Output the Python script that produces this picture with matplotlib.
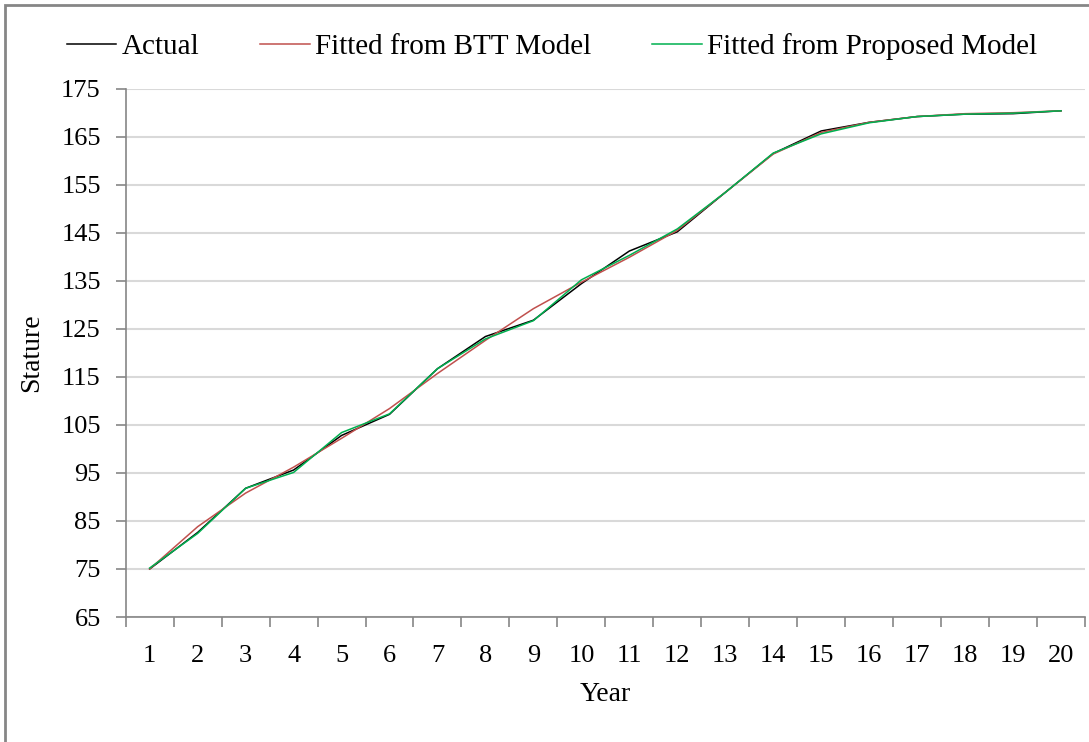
# Estatura por año: valores reales vs. ajustes de dos modelos

import matplotlib.pyplot as plt
from matplotlib.patches import Rectangle
from matplotlib.lines import Line2D

# Seccion 1: Datos

years = list(range(1, 21))
actual = [75.0, 82.6, 91.8, 95.6, 102.8, 107.2, 116.7, 123.4, 126.8, 134.4,
          141.2, 145.2, 153.4, 161.5, 166.2, 168.0, 169.2, 169.7, 169.8, 170.4]
btt = [75.0, 83.8, 90.8, 96.2, 102.2, 108.4, 115.7, 122.6, 129.2, 134.7,
       139.9, 145.5, 153.4, 161.4, 165.9, 168.0, 169.2, 169.8, 170.0, 170.4]
proposed = [75.2, 82.4, 91.8, 95.1, 103.4, 107.3, 116.7, 122.9, 126.7, 135.2,
            140.3, 145.8, 153.4, 161.6, 165.6, 167.9, 169.2, 169.7, 169.9, 170.4]
y_ticks = list(range(65, 176, 10))

# Seccion 2: Gráfica

plt.rcParams['font.family'] = ['Liberation Serif', 'DejaVu Serif']
fs_tick = 19     # etiquetas de ejes
fs_lab = 20      # titulos de ejes
fs_leg = 21      # leyenda

fig = plt.figure(figsize=(10.89, 7.42), dpi=100)
ax = fig.add_axes([125.7/1089, 1 - 617/742, (1085 - 125.7)/1089, (617 - 88.7)/742])

# marco exterior (solo visible arriba e izquierda)
fig.patches.append(Rectangle((5/1089, -0.2), 1.2, 1.2 - 5/742,
                             transform=fig.transFigure, fill=False,
                             edgecolor='#868686', linewidth=2))

ax.plot(years, actual, color='black', linewidth=1.1)
ax.plot(years, btt, color='#C0504D', linewidth=1.1)
ax.plot(years, proposed, color='#00B050', linewidth=1.1)

ax.set_xlim(0.5, 20.5)
ax.set_ylim(65, 175)
ax.set_yticks(y_ticks)
ax.set_xticks(years)
ax.set_xticks([i + 0.5 for i in range(0, 21)], minor=True)
ax.tick_params(axis='x', which='major', length=0, pad=20, labelsize=fs_tick)
ax.tick_params(axis='x', which='minor', length=7, width=1.2, color='#868686')
ax.tick_params(axis='y', length=7, width=1.2, color='#868686', labelsize=fs_tick, pad=11)

ax.grid(axis='y', color='#D9D9D9', linewidth=1.5)
ax.set_axisbelow(True)
for s in ['top', 'right']:
    ax.spines[s].set_visible(False)
for s in ['left', 'bottom']:
    ax.spines[s].set_color('#868686')
    ax.spines[s].set_linewidth(1.2)

ax.set_xlabel('Year', fontsize=fs_lab, labelpad=11)
ax.set_ylabel('Stature', fontsize=fs_lab, labelpad=12)

handles = [Line2D([], [], color='black', linewidth=1.1),
           Line2D([], [], color='#C0504D', linewidth=1.1),
           Line2D([], [], color='#00B050', linewidth=1.1)]
labels = ['Actual', 'Fitted from BTT Model', 'Fitted from Proposed Model']
fig.legend(handles, labels, loc='center', bbox_to_anchor=(552/1089, 1 - 47/742),
           ncol=3, frameon=False, fontsize=fs_leg, handlelength=1.7,
           handletextpad=0.17, columnspacing=2.1)

fig.savefig('out.png', dpi=100)
